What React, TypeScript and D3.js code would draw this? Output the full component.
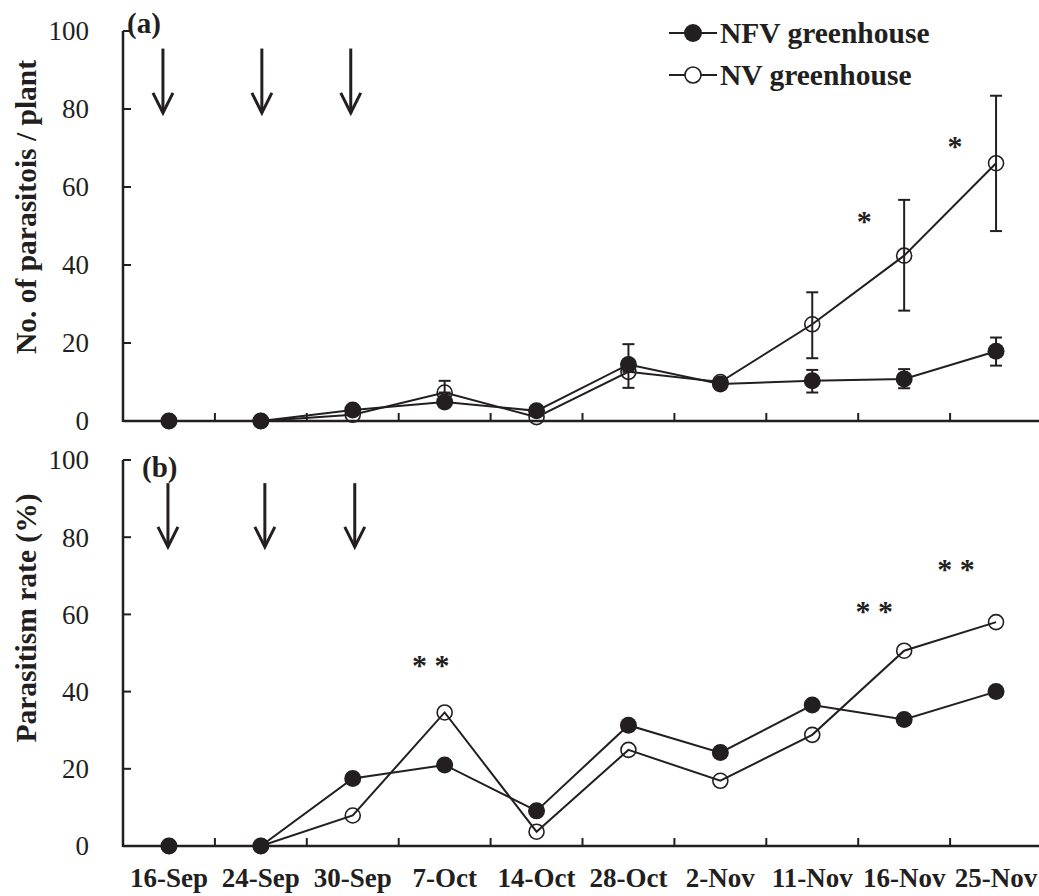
import React, { useEffect } from "react";
import * as d3 from "d3";

// Sampling dates (shared by both panels)
const dates = ["16-Sep", "24-Sep", "30-Sep", "7-Oct", "14-Oct", "28-Oct", "2-Nov", "11-Nov", "16-Nov", "25-Nov"];

// (a) parasitoids per plant, mean and SE bounds
const nfvCount = [0, 0, 2.8, 4.9, 2.6, 14.5, 9.5, 10.3, 10.8, 17.9];
const nfvCountLo = [0, 0, 2.8, 4.9, 2.6, 14.5, 9.5, 7.3, 8.4, 14.2];
const nfvCountHi = [0, 0, 2.8, 4.9, 2.6, 19.7, 9.5, 13.1, 13.3, 21.4];
const nvCount = [0, 0, 1.6, 7.3, 1.0, 12.6, 10.0, 24.8, 42.4, 66.1];
const nvCountLo = [0, 0, 1.6, 7.3, 1.0, 8.5, 10.0, 16.1, 28.3, 48.7];
const nvCountHi = [0, 0, 1.6, 10.3, 1.0, 12.6, 10.0, 33.0, 56.7, 83.4];

// (b) parasitism rate (%)
const nfvRate = [0, 0, 17.5, 21.0, 9.1, 31.3, 24.2, 36.5, 32.8, 40.0];
const nvRate = [0, 0, 7.9, 34.6, 3.7, 24.9, 16.9, 28.8, 50.6, 58.0];

// Release dates (arrows) and significance marks
const releaseDates = ["16-Sep", "24-Sep", "30-Sep"];
const sigCountDates = ["16-Nov", "25-Nov"];
const sigCountLabels = ["*", "*"];
const sigCountLevels = [48.7, 68];
const sigRateDates = ["7-Oct", "16-Nov", "25-Nov"];
const sigRateLabels = ["* *", "* *", "* *"];
const sigRateLevels = [44.3, 58.3, 69.2];

const yTicks = [0, 20, 40, 60, 80, 100];

const INK = "#231f20";
const FONT = "'Liberation Serif', 'Times New Roman', serif";

const W = 1039;
const H = 896;
const left = 123;
const right = 1042;

const x = d3.scaleBand<string>().domain(dates).range([left, right]);
const cx = (d: string) => (x(d) as number) + x.bandwidth() / 2;

const yA = d3.scaleLinear().domain([0, 100]).range([421, 31]);
const yB = d3.scaleLinear().domain([0, 100]).range([846, 460]);

type Scale = d3.ScaleLinear<number, number>;

function Axes({ y, showLabels }: { y: Scale; showLabels: boolean }) {
  const y0 = y(0);
  const boundaries = dates.slice(1).map((d) => x(d) as number);
  return (
    <g>
      <line x1={left} x2={right} y1={y0} y2={y0} stroke={INK} strokeWidth={2.5} />
      <line x1={left} x2={left} y1={y0 + 1} y2={y(100)} stroke={INK} strokeWidth={2.5} />
      {yTicks.map((t) => (
        <g key={t}>
          <line x1={left} x2={left + 8} y1={y(t)} y2={y(t)} stroke={INK} strokeWidth={2} />
          <text x={left - 34} y={y(t)} dy="0.35em" textAnchor="end" fontSize={27} fill={INK} fontFamily={FONT}>
            {t}
          </text>
        </g>
      ))}
      {boundaries.map((b, i) => (
        <line key={i} x1={b} x2={b} y1={y0} y2={y0 - 8} stroke={INK} strokeWidth={2} />
      ))}
      {showLabels &&
        dates.map((d) => (
          <text key={d} x={cx(d)} y={887} textAnchor="middle" fontSize={27} fontWeight="bold" fill={INK} fontFamily={FONT}>
            {d}
          </text>
        ))}
    </g>
  );
}

function Arrow({ xPos, yTop, yTip }: { xPos: number; yTop: number; yTip: number }) {
  return (
    <g stroke={INK} strokeWidth={3} fill="none">
      <line x1={xPos} x2={xPos} y1={yTop} y2={yTip} />
      <polyline points={`${xPos - 10},${yTip - 20} ${xPos},${yTip} ${xPos + 10},${yTip - 20}`} />
    </g>
  );
}

function Series({
  values,
  y,
  filled,
  lo,
  hi,
}: {
  values: number[];
  y: Scale;
  filled: boolean;
  lo?: number[];
  hi?: number[];
}) {
  const line = d3
    .line<number>()
    .x((_, i) => cx(dates[i]))
    .y((v) => y(v));
  return (
    <g>
      <path d={line(values) || ""} fill="none" stroke={INK} strokeWidth={2} />
      {lo &&
        hi &&
        values.map((v, i) => {
          if (hi[i] === lo[i]) return null;
          const xp = cx(dates[i]);
          return (
            <g key={i} stroke={INK} strokeWidth={2}>
              <line x1={xp} x2={xp} y1={y(lo[i])} y2={y(hi[i])} />
              <line x1={xp - 6} x2={xp + 6} y1={y(lo[i])} y2={y(lo[i])} />
              <line x1={xp - 6} x2={xp + 6} y1={y(hi[i])} y2={y(hi[i])} />
            </g>
          );
        })}
      {values.map((v, i) =>
        filled ? (
          <circle key={i} cx={cx(dates[i])} cy={y(v)} r={8.5} fill={INK} />
        ) : (
          <circle key={i} cx={cx(dates[i])} cy={y(v)} r={7.5} fill="none" stroke={INK} strokeWidth={1.6} />
        )
      )}
    </g>
  );
}

export default function App() {
  useEffect(() => {
    document.body.style.margin = "0";
  }, []);

  const arrowShiftA = [-6, 1, -2];
  const arrowShiftB = [-1, 4, 2];
  const sigShiftA = [-40, -41];
  const sigShiftB = [-14, -30, -40];

  return (
    <svg width={W} height={H} style={{ display: "block" }} fontFamily={FONT}>
      <rect width={W} height={H} fill="white" />

      {/* Panel (a): parasitoid counts */}
      <Axes y={yA} showLabels={false} />
      <text x={127} y={33} fontSize={29} fontWeight="bold" fill={INK}>
        (a)
      </text>
      <text transform="translate(36,207) rotate(-90)" textAnchor="middle" fontSize={29.5} fontWeight="bold" fill={INK}>
        No. of  parasitois / plant
      </text>
      {releaseDates.map((d, i) => (
        <Arrow key={d} xPos={cx(d) + arrowShiftA[i]} yTop={yA(95.5)} yTip={yA(79)} />
      ))}
      <Series values={nvCount} y={yA} filled={false} lo={nvCountLo} hi={nvCountHi} />
      <Series values={nfvCount} y={yA} filled={true} lo={nfvCountLo} hi={nfvCountHi} />
      {sigCountDates.map((d, i) => (
        <text key={d} x={cx(d) + sigShiftA[i]} y={yA(sigCountLevels[i])} textAnchor="middle" fontSize={30} fontWeight="bold" fill={INK}>
          {sigCountLabels[i]}
        </text>
      ))}

      {/* Legend */}
      <g>
        <line x1={669} x2={717} y1={33} y2={33} stroke={INK} strokeWidth={2} />
        <circle cx={693} cy={33} r={9} fill={INK} />
        <text x={720} y={43} fontSize={29.5} fontWeight="bold" fill={INK}>
          NFV greenhouse
        </text>
        <line x1={669} x2={717} y1={75} y2={75} stroke={INK} strokeWidth={2} />
        <circle cx={693} cy={75} r={8} fill="white" stroke={INK} strokeWidth={1.6} />
        <text x={720} y={85} fontSize={29.5} fontWeight="bold" fill={INK}>
          NV greenhouse
        </text>
      </g>

      {/* Panel (b): parasitism rate */}
      <Axes y={yB} showLabels={true} />
      <text x={142} y={477} fontSize={29} fontWeight="bold" fill={INK}>
        (b)
      </text>
      <text transform="translate(36,618) rotate(-90)" textAnchor="middle" fontSize={29.5} fontWeight="bold" fill={INK}>
        Parasitism rate (%)
      </text>
      {releaseDates.map((d, i) => (
        <Arrow key={d} xPos={cx(d) + arrowShiftB[i]} yTop={yB(94)} yTip={yB(77.5)} />
      ))}
      <Series values={nvRate} y={yB} filled={false} />
      <Series values={nfvRate} y={yB} filled={true} />
      {sigRateDates.map((d, i) => (
        <text key={d} x={cx(d) + sigShiftB[i]} y={yB(sigRateLevels[i])} textAnchor="middle" fontSize={30} fontWeight="bold" fill={INK}>
          {sigRateLabels[i]}
        </text>
      ))}
    </svg>
  );
}
